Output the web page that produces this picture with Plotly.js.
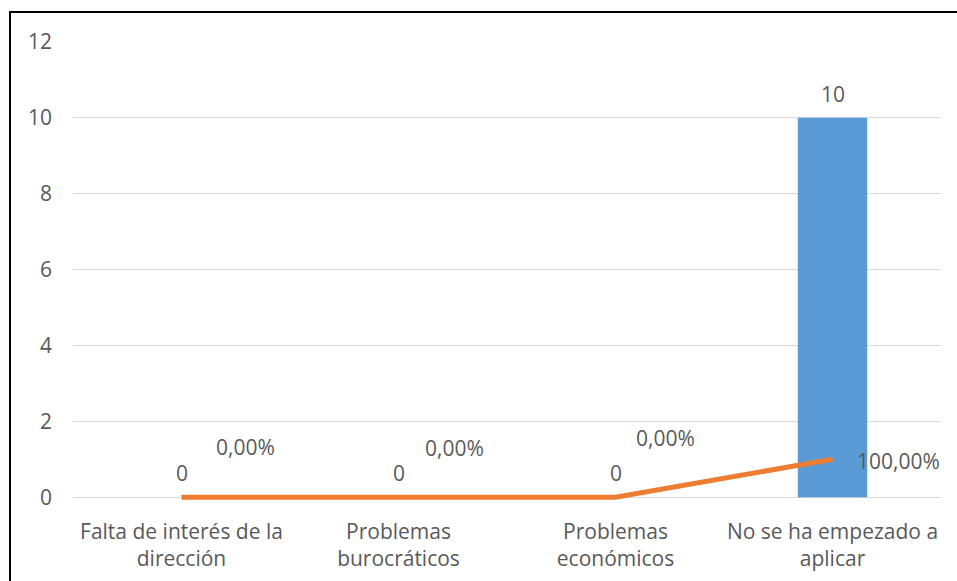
<!DOCTYPE html>
<html><head><meta charset="utf-8">
<script src="https://cdn.plot.ly/plotly-3.0.1.min.js"></script>
<style>html,body{margin:0;padding:0;background:#fff;}#chart{width:957px;height:581px;}</style>
</head><body><div id="chart"></div>
<script>
const categories = ["Falta de interés de la<br>dirección", "Problemas<br>burocráticos", "Problemas<br>económicos", "No se ha empezado a<br>aplicar"];
const counts = [0, 0, 0, 10];
const percents = [0, 0, 0, 1];
const yTicks = [0, 2, 4, 6, 8, 10, 12];

// label offsets (px) for the percentage labels
const pctShiftX = [32, 24, 18, 22];
const pctShiftY = [50, 49, 59, -2];

const font = {family: "'Open Sans', 'Liberation Sans', sans-serif", size: 21, color: "#595959"};

function fmtPct(v){ return (v*100).toFixed(2).replace('.', ',') + '%'; }

const annotations = [];
categories.forEach((c, i) => {
  annotations.push({x: c, y: counts[i], xref: 'x', yref: 'y', text: String(counts[i]),
    showarrow: false, yshift: 24, font: font, xanchor: 'center', yanchor: 'middle'});
  annotations.push({x: c, y: percents[i], xref: 'x', yref: 'y', text: fmtPct(percents[i]),
    showarrow: false, xshift: pctShiftX[i], yshift: pctShiftY[i], font: font, xanchor: 'left', yanchor: 'middle'});
});

const data = [
  {type: 'bar', x: categories, y: counts, width: 0.32, marker: {color: '#5B9BD5'}, hoverinfo: 'none'},
  {type: 'scatter', mode: 'lines', x: categories, y: percents,
   line: {color: '#ED7D31', width: 5}, hoverinfo: 'none'}
];

const layout = {
  width: 957, height: 581,
  margin: {l: 73, r: 16, t: 42, b: 80, autoexpand: false},
  paper_bgcolor: '#fff', plot_bgcolor: '#fff',
  showlegend: false,
  font: font,
  xaxis: {type: 'category', range: [-0.5, categories.length - 0.5], automargin: false, showgrid: false,
    zeroline: false, showline: false, ticks: '', tickfont: font, ticklabelstandoff: 16},
  yaxis: {range: [-0.1, 12], automargin: false, tickvals: yTicks, showgrid: true, gridcolor: '#D9D9D9', gridwidth: 1,
    zeroline: false, showline: false, ticks: '', tickfont: font, ticklabelstandoff: 20},
  annotations: annotations,
  shapes: [{type: 'rect', xref: 'paper', yref: 'paper', x0: -63/868, x1: 1.5, y0: -0.5, y1: 1 + 30/459,
    line: {color: '#000', width: 2}, fillcolor: 'rgba(0,0,0,0)', layer: 'above'}]
};

Plotly.newPlot('chart', data, layout, {staticPlot: true, displayModeBar: false});
</script></body></html>
